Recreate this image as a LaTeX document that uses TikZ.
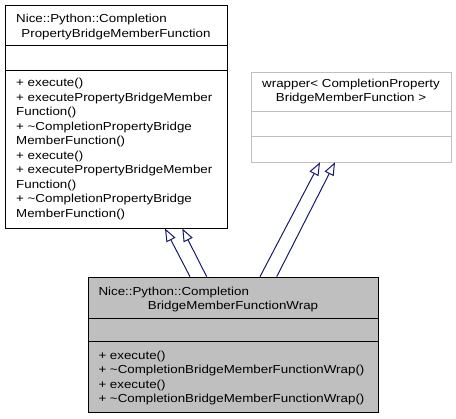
\documentclass[tikz,border=0pt]{standalone}
\usepackage{fontspec}
\newfontfamily\dfont[FakeStretch=1.15]{Liberation Sans}
\usetikzlibrary{arrows.meta}
\definecolor{edgeblue}{HTML}{191970}
\definecolor{boxgrey}{HTML}{BFBFBF}
\begin{document}
\begin{tikzpicture}[x=1pt,y=-1pt,
  box/.style={line width=1pt, inner sep=0pt, anchor=north west},
  sep/.style={line width=1pt},
  txt/.style={font=\dfont\fontsize{11.6}{14.5}\selectfont, inner sep=0pt, anchor=base west},
  ctxt/.style={txt, anchor=base},
  inh/.style={draw=edgeblue, line width=1pt, -{Triangle[open,length=13pt,width=10pt]}}]
\useasboundingbox (0,0) rectangle (456,419);
% class A
\node[box, draw=black, fill=white, minimum width=222pt, minimum height=223.5pt] (A) at (5,5) {};
\draw[sep] (A.west |- 0,46) -- (A.east |- 0,46);
\draw[sep] (A.west |- 0,71) -- (A.east |- 0,71);
\node[txt] (At1) at (16,23) {Nice::Python::Completion};
\node[ctxt] (At2) at (116,37.5) {PropertyBridgeMemberFunction};
\foreach \t [count=\i] in {+ execute(), + executePropertyBridgeMember, Function(),
  + \textasciitilde CompletionPropertyBridge, MemberFunction(), + execute(),
  + executePropertyBridgeMember, Function(), + \textasciitilde CompletionPropertyBridge, MemberFunction()}
  \node[txt] (Am\i) at (16,{87+14.5*(\i-1)}) {\t};
% class B
\node[box, draw=boxgrey, fill=white, minimum width=200pt, minimum height=90.3pt] (B) at (251,72) {};
\draw[sep, boxgrey] (B.west |- 0,112) -- (B.east |- 0,112);
\draw[sep, boxgrey] (B.west |- 0,137) -- (B.east |- 0,137);
\node[ctxt] (Bt1) at (351,87.5) {wrapper< CompletionProperty};
\node[ctxt] (Bt2) at (351,102) {BridgeMemberFunction >};
% class C
\node[box, draw=black, fill=boxgrey, minimum width=290pt, minimum height=135pt] (C) at (88,276.7) {};
\draw[sep] (C.west |- 0,318.3) -- (C.east |- 0,318.3);
\draw[sep] (C.west |- 0,341.7) -- (C.east |- 0,341.7);
\node[txt] (Ct1) at (98.3,295.5) {Nice::Python::Completion};
\node[ctxt] (Ct2) at (233,310) {BridgeMemberFunctionWrap};
\foreach \t [count=\i] in {+ execute(), + \textasciitilde CompletionBridgeMemberFunctionWrap(),
  + execute(), + \textasciitilde CompletionBridgeMemberFunctionWrap()}
  \node[txt] (Cm\i) at (98.3,{359.5+14.5*(\i-1)}) {\t};
% inheritance connectors
\coordinate (c1) at (190,276.7);
\coordinate (c2) at (206.7,276.7);
\coordinate (c3) at (260,276.7);
\coordinate (c4) at (276.7,276.7);
\coordinate (a1) at (165,228.5);
\coordinate (a2) at (182.3,228.5);
\coordinate (b1) at (320,162.3);
\coordinate (b2) at (335,162.3);
\draw[inh] (c1) -- (a1);
\draw[inh] (c2) -- (a2);
\draw[inh] (c3) -- (b1);
\draw[inh] (c4) -- (b2);
\end{tikzpicture}
\end{document}
